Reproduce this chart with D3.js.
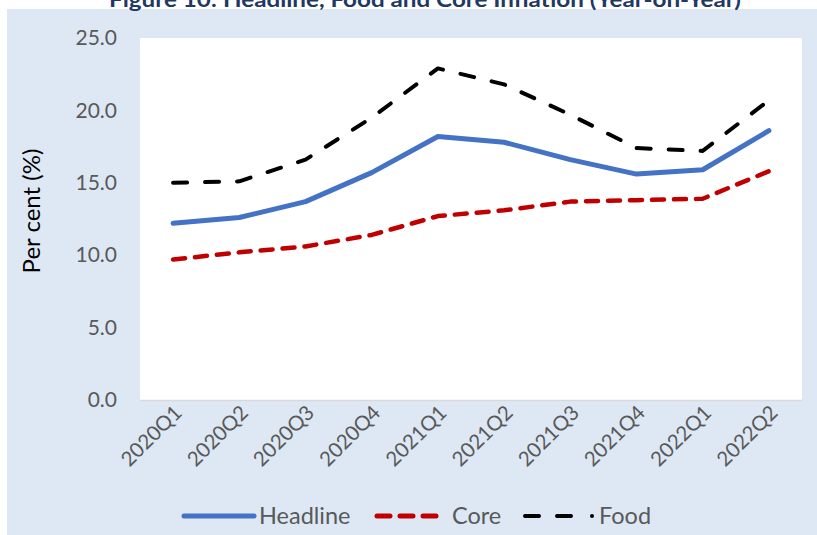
<!DOCTYPE html>
<html><head><meta charset="utf-8">
<script src="https://cdn.jsdelivr.net/npm/d3@7"></script>
<style>body{margin:0;background:#fff;}svg{display:block;}</style>
</head><body>
<svg id="c" width="817" height="535"></svg>
<script>
const categories = ["2020Q1","2020Q2","2020Q3","2020Q4","2021Q1","2021Q2","2021Q3","2021Q4","2022Q1","2022Q2"];
const headline = [12.2, 12.6, 13.7, 15.7, 18.2, 17.8, 16.6, 15.6, 15.9, 18.6];
const core     = [9.7, 10.2, 10.6, 11.4, 12.7, 13.1, 13.7, 13.8, 13.9, 15.8];
const food     = [15.0, 15.1, 16.6, 19.5, 22.9, 21.8, 19.7, 17.4, 17.2, 20.7];
const yTicks = [0, 5, 10, 15, 20, 25];
const title = "Figure 10: Headline, Food and Core Inflation (Year-on-Year)";
const yTitle = "Per cent (%)";

const series = [
  {name:"Headline", values: headline, color:"#4472c4", width:5, dash:null},
  {name:"Core", values: core, color:"#c00000", width:4.5, dash:"12,10"},
  {name:"Food", values: food, color:"#000000", width:4, dash:"14,18"}
];

const svg = d3.select("#c");
const font = "Lato, 'Open Sans', sans-serif";
svg.append("rect").attr("x",7).attr("y",9).attr("width",810).attr("height",526).attr("fill","#dde8f4");
svg.append("text").attr("x",425).attr("y",7).attr("text-anchor","middle")
  .attr("font-family",font).attr("font-size",21).attr("font-weight","bold").attr("fill","#1f3864")
  .attr("textLength",632).attr("lengthAdjust","spacingAndGlyphs").text(title);

const L=140, R=802, T=38, B=400;
svg.append("rect").attr("x",L).attr("y",T).attr("width",R-L).attr("height",B-T).attr("fill","#fff");

const x = d3.scaleBand().domain(categories).range([L,R]);
const y = d3.scaleLinear().domain([0,25]).range([B,T]);

svg.append("line").attr("x1",L).attr("x2",R).attr("y1",B+0.5).attr("y2",B+0.5).attr("stroke","#d9d9d9").attr("stroke-width",1.5);

const yAxis = d3.axisLeft(y).tickValues(yTicks).tickFormat(d3.format(".1f")).tickSize(0).tickPadding(23);
const gy = svg.append("g").attr("transform",`translate(${L},0)`).call(yAxis);
gy.select(".domain").remove();
gy.selectAll("text").attr("font-family",font).attr("font-size",21).attr("fill","#595959");

const xAxis = d3.axisBottom(x).tickSize(0).tickPadding(0);
const gx = svg.append("g").attr("transform",`translate(0,${B})`).call(xAxis);
gx.select(".domain").remove();
gx.selectAll("text").attr("font-family",font).attr("font-size",20.5).attr("fill","#595959")
  .attr("text-anchor","end").attr("dy",null).attr("y",0)
  .attr("transform","translate(10,14) rotate(-45)");

svg.append("text").attr("transform","translate(40,211) rotate(-90)").attr("text-anchor","middle")
  .attr("font-family",font).attr("font-size",24).attr("fill","#000").text(yTitle);

const line = d3.line().x((d,i)=>x(categories[i])+x.bandwidth()/2).y(d=>y(d));
series.forEach(s=>{
  svg.append("path").datum(s.values).attr("d",line).attr("fill","none")
    .attr("stroke",s.color).attr("stroke-width",s.width)
    .attr("stroke-dasharray",s.dash).attr("stroke-linecap","round").attr("stroke-linejoin","round");
});

const ly = 516;
const fs = 23.5;
const lg = svg.append("g");
lg.append("line").attr("x1",184).attr("x2",254).attr("y1",ly).attr("y2",ly).attr("stroke","#4472c4").attr("stroke-width",5).attr("stroke-linecap","round");
lg.append("text").attr("x",259).attr("y",ly+8).attr("font-family",font).attr("font-size",fs).attr("fill","#595959").text("Headline");
lg.append("line").attr("x1",377).attr("x2",439).attr("y1",ly).attr("y2",ly).attr("stroke","#c00000").attr("stroke-width",5).attr("stroke-linecap","round").attr("stroke-dasharray","13,10");
lg.append("text").attr("x",452).attr("y",ly+8).attr("font-family",font).attr("font-size",fs).attr("fill","#595959").text("Core");
lg.append("line").attr("x1",525).attr("x2",573).attr("y1",ly).attr("y2",ly).attr("stroke","#000").attr("stroke-width",4).attr("stroke-linecap","round").attr("stroke-dasharray","14,18");
lg.append("circle").attr("cx",592).attr("cy",ly).attr("r",2).attr("fill","#000");
lg.append("text").attr("x",599).attr("y",ly+8).attr("font-family",font).attr("font-size",fs).attr("fill","#595959").text("Food");
</script>
</body></html>
